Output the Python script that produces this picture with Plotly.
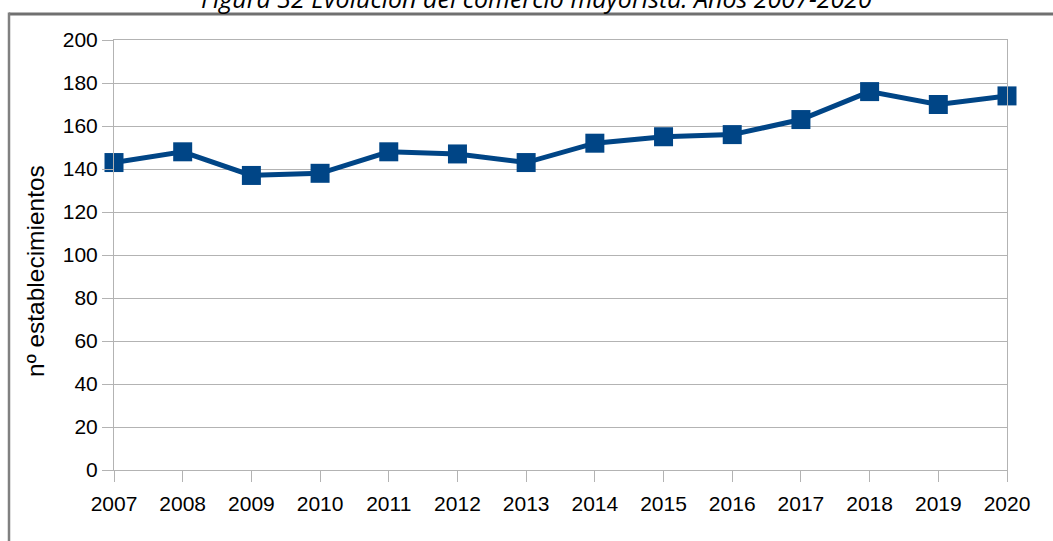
import plotly.graph_objects as go

years = [2007, 2008, 2009, 2010, 2011, 2012, 2013, 2014, 2015, 2016, 2017, 2018, 2019, 2020]
establecimientos = [143, 148, 137, 138, 148, 147, 143, 152, 155, 156, 163, 176, 170, 174]
y_ticks = [0, 20, 40, 60, 80, 100, 120, 140, 160, 180, 200]
title_text = "Figura 32 Evolución del comercio mayorista. Años 2007-2020"
y_title = "nº establecimientos"

W, H = 1053, 541
L, R, T, B = 114, 46, 40, 71
pw, ph = W - L - R, H - T - B

def px_x(p):
    return (p - L) / pw

def px_y(p):
    return (H - B - p) / ph

fig = go.Figure()
fig.add_trace(go.Scatter(
    x=years, y=establecimientos, mode="lines+markers",
    line=dict(color="#004586", width=5),
    marker=dict(symbol="square", size=19, color="#004586"),
    cliponaxis=False, showlegend=False,
))

grid = "#b3b3b3"
fig.update_layout(
    width=W, height=H,
    margin=dict(l=L, r=R, t=T, b=B, pad=0),
    paper_bgcolor="white", plot_bgcolor="white",
    font=dict(family="Liberation Sans, Arial, sans-serif", size=22, color="#000000"),
    xaxis=dict(
        range=[2007, 2020], tickmode="array", tickvals=years,
        ticktext=[str(y) for y in years],
        showgrid=False, zeroline=False,
        showline=True, linecolor=grid, linewidth=1, mirror=True,
        ticks="outside", ticklen=11, tickcolor=grid, tickwidth=1,
        tickfont=dict(size=21), ticklabelstandoff=4,
    ),
    yaxis=dict(
        range=[0, 200], tickmode="array", tickvals=y_ticks,
        showgrid=True, gridcolor=grid, gridwidth=1, zeroline=False,
        showline=True, linecolor=grid, linewidth=1, mirror=True,
        ticks="outside", ticklen=11, tickcolor=grid, tickwidth=1,
        tickfont=dict(size=21),
    ),
    annotations=[
        dict(
            text="<i>" + title_text + "</i>", x=px_x(536), y=px_y(17),
            xref="paper", yref="paper", xanchor="center", yanchor="bottom",
            showarrow=False, font=dict(family="Open Sans, sans-serif", size=25, color="#000000"),
        ),
        dict(
            text=y_title, x=px_x(35), y=px_y(271), textangle=-90,
            xref="paper", yref="paper", xanchor="center", yanchor="middle",
            showarrow=False, font=dict(size=24.5, color="#000000"),
        ),
    ],
    shapes=[
        dict(type="line", xref="paper", yref="paper", layer="above",
             x0=px_x(9), x1=px_x(1053), y0=px_y(14), y1=px_y(14),
             line=dict(color="#707070", width=3)),
        dict(type="line", xref="paper", yref="paper", layer="above",
             x0=px_x(9), x1=px_x(9), y0=px_y(12.5), y1=px_y(560),
             line=dict(color="#808080", width=2.5)),
    ],
)

fig.write_html("out.html", config={"displayModeBar": False},
               post_script="document.body.style.margin='0';")
